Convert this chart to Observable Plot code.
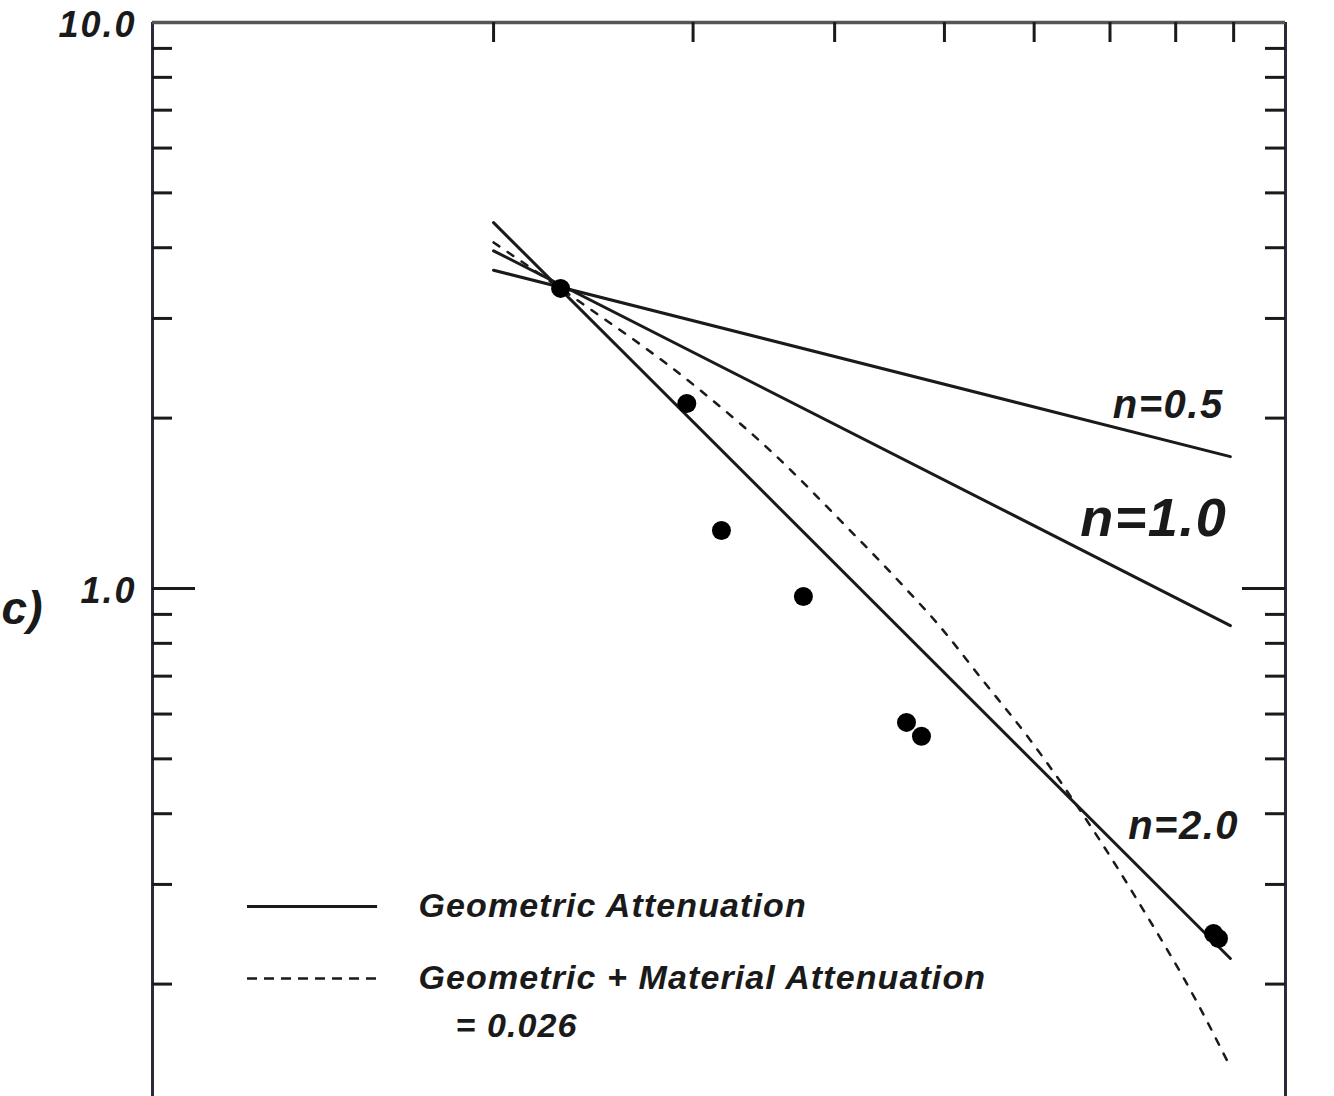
<!DOCTYPE html>
<html><head><meta charset="utf-8">
<script src="https://cdn.jsdelivr.net/npm/d3@7"></script>
<script src="https://cdn.jsdelivr.net/npm/@observablehq/plot@0.6"></script>
<style>
body{margin:0;background:#fff;}
#chart svg{display:block}
#chart g.lbl text{letter-spacing:1.5px}
#chart g.leg text{letter-spacing:1.1px}
#chart g.ylab text{letter-spacing:2px}
</style>
</head><body><div id="chart"></div>
<script>
// ---- scales / ticks ----
const xDomain = [10, 100];
const yDomain = [0.1266, 10];
const xTopTicks = [20, 30, 40, 50, 60, 70, 80, 90];
const yMinorTicks = [0.2, 0.3, 0.4, 0.5, 0.6, 0.7, 0.8, 0.9, 2, 3, 4, 5, 6, 7, 8, 9];
const yMajorTicks = [1];
const yTickLabelValues = [10, 1];
const yTickLabels = ["10.0", "1.0"];

// ---- observed amplitudes ----
const obsDistance = [22.92, 29.62, 31.78, 37.54, 46.29, 47.72, 86.39, 87.27];
const obsAmplitude = [3.39, 2.122, 1.266, 0.968, 0.580, 0.548, 0.2458, 0.2408];

// ---- geometric attenuation lines (end points) ----
const geoDistance = [20, 89.4];
const geoN05 = [3.65, 1.71];
const geoN10 = [3.95, 0.860];
const geoN20 = [4.43, 0.222];

// ---- geometric + material attenuation curve ----
const matDistance = [20.0, 22.92, 30.46, 35.32, 40.48, 46.38, 49.30, 53.81, 59.56, 67.69, 74.03, 83.63, 89.44];
const matAmplitude = [4.087, 3.388, 2.238, 1.732, 1.318, 0.992, 0.867, 0.696, 0.539, 0.3736, 0.2811, 0.185, 0.1424];

// ---- labels ----
const curveLabels = ["n=0.5", "n=1.0", "n=2.0"];
const curveLabelX = [78.8, 76.5, 81.3];
const curveLabelY = [2.106, 1.33, 0.380];
const legendLabels = ["Geometric Attenuation", "Geometric + Material Attenuation", "= 0.026"];
const panelLabel = "c)";

// tables built from the arrays
const obs = obsDistance.map((d, i) => ({d, a: obsAmplitude[i]}));
const geo = [["0.5", geoN05], ["1.0", geoN10], ["2.0", geoN20]]
  .flatMap(([n, arr]) => geoDistance.map((d, i) => ({d, a: arr[i], n})));
const mat = matDistance.map((d, i) => ({d, a: matAmplitude[i]}));
const nlab = curveLabels.map((t, i) => ({t, x: curveLabelX[i], y: curveLabelY[i]}));

const FONT = "'Liberation Sans', Arial, Helvetica, sans-serif";
const W = 1334, H = 1096, ML = 152, MR = 49, MT = 22, MB = 0;
const PW = W - ML - MR, PH = H - MT - MB;
const INK = "#1a1a1a";
const txt = {fontWeight: "bold", fontStyle: "italic", fontFamily: FONT, fill: INK};

const chart = Plot.plot({
  width: W, height: H,
  marginLeft: ML, marginRight: MR, marginTop: MT, marginBottom: MB,
  style: {background: "#fff", overflow: "visible"},
  x: {type: "log", domain: xDomain, axis: null},
  y: {type: "log", domain: yDomain, axis: null},
  marks: [
    // frame
    Plot.ruleX(xDomain, {stroke: "#2a2a3a", strokeWidth: 3}),
    Plot.ruleY([yDomain[1]], {stroke: "#555", strokeWidth: 3.5}),
    // inward ticks
    Plot.tickX(xTopTicks, {x: d => d, insetBottom: PH - 20, stroke: INK, strokeWidth: 3}),
    Plot.tickY(yMinorTicks, {y: d => d, insetRight: PW - 20, stroke: INK, strokeWidth: 3}),
    Plot.tickY(yMinorTicks, {y: d => d, insetLeft: PW - 20, stroke: INK, strokeWidth: 3}),
    Plot.tickY(yMajorTicks, {y: d => d, insetRight: PW - 43, stroke: INK, strokeWidth: 3}),
    Plot.tickY(yMajorTicks, {y: d => d, insetLeft: PW - 43, stroke: INK, strokeWidth: 3}),
    // y tick labels
    Plot.text(yTickLabelValues, {x: xDomain[0], y: d => d, text: (d, i) => yTickLabels[i],
      textAnchor: "end", dx: -16, dy: 3, fontSize: 36, className: "ylab", ...txt}),
    // geometric lines
    Plot.line(geo, {x: "d", y: "a", z: "n", stroke: INK, strokeWidth: 3}),
    // geometric + material
    Plot.line(mat, {x: "d", y: "a", curve: "monotone-x", stroke: INK, strokeWidth: 2.5, strokeDasharray: "7,10"}),
    // observations
    Plot.dot(obs, {x: "d", y: "a", r: 9.5, fill: "#000", stroke: "none"}),
    // curve labels
    Plot.text(nlab, {x: "x", y: "y", text: "t", fontSize: (d, i) => i === 1 ? 54 : 40,
      className: "lbl", ...txt}),
    // legend
    Plot.ruleY([0.2743], {x1: 12.13, x2: 15.8, stroke: INK, strokeWidth: 3}),
    Plot.ruleY([0.2046], {x1: 12.13, x2: 15.8, stroke: INK, strokeWidth: 2.5, strokeDasharray: "10,7"}),
    Plot.text([legendLabels[0]], {x: 17.17, y: 0.2743, text: d => d, textAnchor: "start",
      fontSize: 34, className: "leg", ...txt}),
    Plot.text([legendLabels[1]], {x: 17.17, y: 0.2046, text: d => d, textAnchor: "start",
      fontSize: 34, className: "leg", ...txt}),
    Plot.text([legendLabels[2]], {x: 18.51, y: 0.1683, text: d => d, textAnchor: "start",
      fontSize: 34, className: "leg", ...txt}),
    // panel label
    Plot.text([panelLabel], {x: xDomain[0], y: 0.92, text: d => d, textAnchor: "end", dx: -110,
      fontSize: 46, ...txt})
  ]
});
document.getElementById("chart").appendChild(chart);
</script>
</body></html>
